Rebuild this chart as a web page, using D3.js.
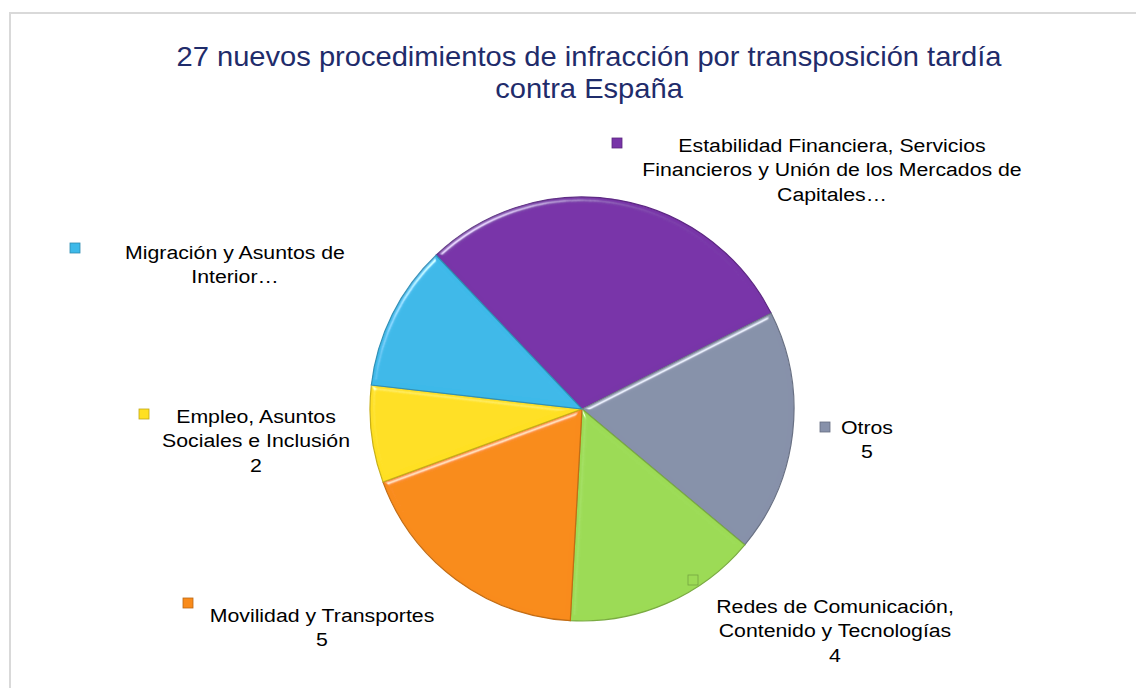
<!DOCTYPE html>
<html>
<head>
<meta charset="utf-8">
<script src="https://cdn.jsdelivr.net/npm/d3@7"></script>
<style>
  body { margin: 0; background: #fff; }
  svg { display: block; font-family: "Liberation Sans", Arial, sans-serif; }
</style>
</head>
<body>
<svg width="1136" height="688"></svg>
<script>
// Data (27 procedures in total)
var categories = [
    'Estabilidad Financiera, Servicios Financieros y Unión de los Mercados de Capitales',
    'Otros',
    'Redes de Comunicación, Contenido y Tecnologías',
    'Movilidad y Transportes',
    'Empleo, Asuntos Sociales e Inclusión',
    'Migración y Asuntos de Interior'
];
var values = [8, 5, 4, 5, 2, 3];
var colors = ['#7834a8', '#8791aa', '#9cdb55', '#f98b1a', '#ffe021', '#3db9e9'];

// Text of each data label as Excel wraps it (long ones are truncated)
var labelLines = [
    ['Estabilidad Financiera, Servicios', 'Financieros y Unión de los Mercados de', 'Capitales…'],
    ['Otros', '5'],
    ['Redes de Comunicación,', 'Contenido y Tecnologías', '4'],
    ['Movilidad y Transportes', '5'],
    ['Empleo, Asuntos', 'Sociales e Inclusión', '2'],
    ['Migración y Asuntos de', 'Interior…']
];

var title = ['27 nuevos procedimientos de infracción por transposición tardía', 'contra España'];

var svg = d3.select('svg');
var svgWidth = +svg.attr('width');
var svgHeight = +svg.attr('height');

// Chart area frame
svg.append('rect')
    .attr('x', 10)
    .attr('y', 13)
    .attr('width', svgWidth)
    .attr('height', svgHeight)
    .attr('fill', '#fff')
    .attr('stroke', '#d9d9d9')
    .attr('stroke-width', 2);

// Bevel-like shading for slices and legend keys
var defs = svg.append('defs');
var bevel = defs.append('filter').attr('id', 'bevel')
    .attr('x', '-5%').attr('y', '-5%').attr('width', '110%').attr('height', '110%');
bevel.append('feGaussianBlur').attr('in', 'SourceAlpha').attr('stdDeviation', 2.5).attr('result', 'blur');
bevel.append('feSpecularLighting')
    .attr('in', 'blur').attr('surfaceScale', 5).attr('specularConstant', 0.9)
    .attr('specularExponent', 30).attr('lighting-color', '#ffffff').attr('result', 'spec')
  .append('feDistantLight').attr('azimuth', 235).attr('elevation', 25);
bevel.append('feComposite').attr('in', 'spec').attr('in2', 'SourceAlpha')
    .attr('operator', 'in').attr('result', 'specOut');
bevel.append('feComposite').attr('in', 'SourceGraphic').attr('in2', 'specOut')
    .attr('operator', 'arithmetic').attr('k1', 0).attr('k2', 1).attr('k3', 0.7).attr('k4', 0);

// Title
svg.append('text')
    .attr('transform', 'translate(589,0) scale(1.04,1)')
    .attr('text-anchor', 'middle')
    .attr('fill', '#1f2c6b')
    .attr('font-size', 28)
    .selectAll('tspan')
    .data(title)
    .enter()
    .append('tspan')
    .attr('x', 0)
    .attr('y', function(d, i) { return 66 + i * 32; })
    .text(function(d) { return d; });

// Pie layout
var cx = 582, cy = 409, radius = 212;
var startDeg = -43.5;
var pie = d3.pie()
    .sort(null)
    .startAngle(startDeg * Math.PI / 180)
    .endAngle(startDeg * Math.PI / 180 + 2 * Math.PI);
var arc = d3.arc().innerRadius(0).outerRadius(radius);
var arcs = pie(values);

var pieG = svg.append('g')
    .attr('transform', 'translate(' + [cx, cy] + ')');

pieG.selectAll('.slice')
    .data(arcs)
    .enter()
    .append('path')
    .attr('class', 'slice')
    .attr('d', arc)
    .attr('fill', function(d, i) { return colors[i]; })
    .attr('stroke', function(d, i) { return d3.color(colors[i]).darker(0.7); })
    .attr('stroke-width', 1.2)
    .attr('filter', 'url(#bevel)');

// Data labels: positions set by hand in the original, so kept here as layout
var labelPos = [
    {x: 832, y: 152, kx: 617, ky: 143},
    {x: 867, y: 434, kx: 825, ky: 427},
    {x: 835, y: 613, kx: 693, ky: 580},
    {x: 322, y: 622, kx: 188, ky: 603},
    {x: 256, y: 423, kx: 144, ky: 414},
    {x: 235, y: 259, kx: 75, ky: 248}
];
var lineHeight = 24.5;

var labels = svg.selectAll('.label')
    .data(arcs)
    .enter()
    .append('g')
    .attr('class', 'label');

labels.append('rect')
    .attr('x', function(d, i) { return labelPos[i].kx - 5; })
    .attr('y', function(d, i) { return labelPos[i].ky - 5; })
    .attr('width', 10)
    .attr('height', 10)
    .attr('fill', function(d, i) { return colors[i]; })
    .attr('stroke', function(d, i) { return d3.color(colors[i]).darker(0.8); })
    .attr('stroke-width', 0.8);

labels.append('text')
    .attr('text-anchor', 'middle')
    .attr('font-size', 19)
    .attr('fill', '#000')
    .attr('transform', function(d, i) { return 'translate(' + labelPos[i].x + ',0) scale(1.12,1)'; })
    .each(function(d, i) {
        var t = d3.select(this);
        labelLines[i].forEach(function(line, j) {
            t.append('tspan')
                .attr('x', 0)
                .attr('y', labelPos[i].y + j * lineHeight)
                .text(line);
        });
    });
</script>
</body>
</html>
